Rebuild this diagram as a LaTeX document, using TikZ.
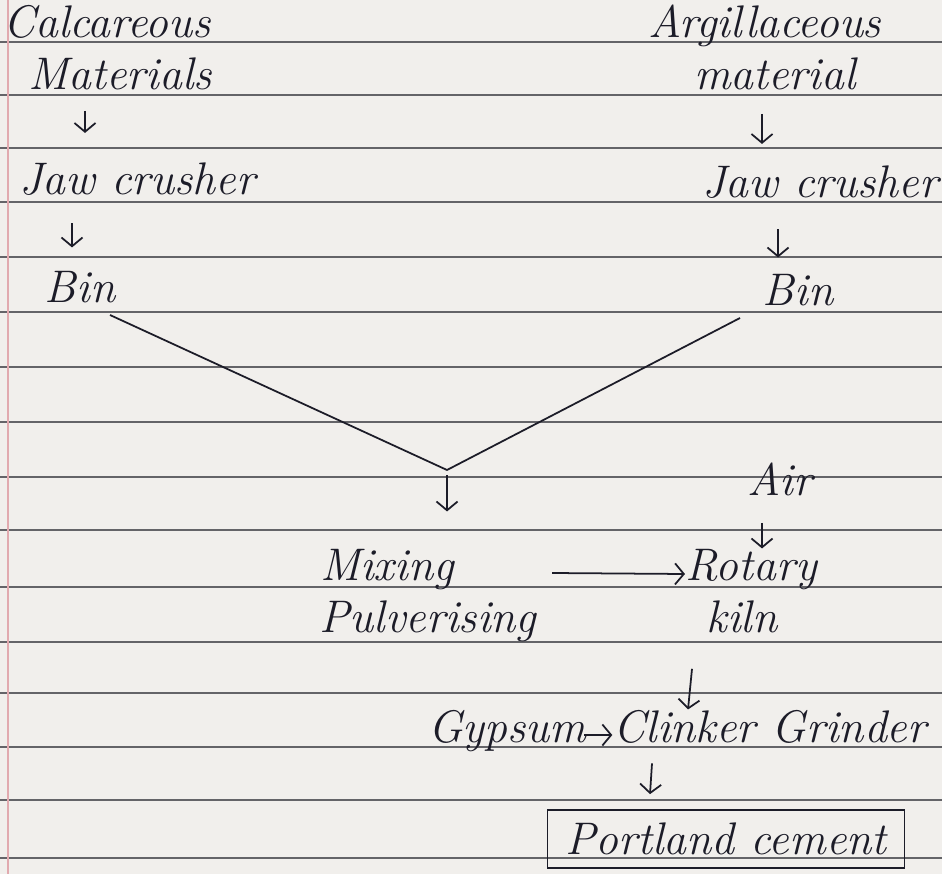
\documentclass[tikz,border=0pt]{standalone}
\usepackage{xcolor}
\usepackage{tikz}
\usetikzlibrary{arrows.meta}

\definecolor{paper}{RGB}{241,239,236}
\definecolor{rule}{RGB}{100,100,104}
\definecolor{margin}{RGB}{225,170,175}
\definecolor{ink}{RGB}{28,28,40}

\tikzset{
  word/.style={anchor=base,inner sep=0pt,text=ink,
    font=\fontsize{26}{30}\selectfont\itshape},
  flow/.style={draw=ink,line width=1pt,-{Straight Barb[length=5pt,width=12pt]}},
  joint/.style={draw=ink,line width=1pt}
}

\begin{document}
\begin{tikzpicture}[x=0.02cm,y=-0.02cm]
    \useasboundingbox (0,0) rectangle (942,874);
    \fill[paper] (0,0) rectangle (942,874);

    % ruled paper
    \foreach \y in {42,95,148,202,257,312,367,422,477,530,587,642,693,747,800,858}{
      \draw[rule,line width=1.2pt] (0,\y) -- (942,\y);
    }
    \draw[margin,line width=0.8pt] (8,0) -- (8,874);

    \begin{scope}
      % left branch
      \node[word] (calca) at (107,38)  {Calcareous};
      \node[word] (calcb) at (120,90)  {Materials};
      \node[word] (jawl)  at (137,195) {Jaw crusher};
      \node[word] (binl)  at (80,303)  {Bin};

      % right branch
      \node[word] (arga) at (765,38)  {Argillaceous};
      \node[word] (argb) at (775,90)  {material};
      \node[word] (jawr) at (820,198) {Jaw crusher};
      \node[word] (binr) at (798,306) {Bin};

      % process
      \coordinate (apex) at (447,470);
      \node[word] (air)   at (780,495) {Air};
      \node[word] (mix)   at (387,580) {Mixing};
      \node[word] (pulv)  at (428,632) {Pulverising};
      \node[word] (rot)   at (751,580) {Rotary};
      \node[word] (kiln)  at (742,632) {kiln};
      \node[word] (gyp)   at (507,742) {Gypsum};
      \node[word] (clink) at (770,742) {Clinker Grinder};
      \node[draw=ink,line width=1pt,minimum width=7.14cm,minimum height=1.16cm,
            text=ink,font=\fontsize{26}{30}\selectfont\itshape] (port) at (726,839) {Portland cement};

      \draw[flow] ([shift={(-35,20)}]calcb.south) -- ([shift={(-52,-30)}]jawl.north);
      \draw[flow] ([shift={(-65,27)}]jawl.south) -- ([shift={(-8,-24)}]binl.north);
      \draw[flow] ([shift={(-13,23)}]argb.south) -- ([shift={(-58,-22)}]jawr.north);
      \draw[flow] ([shift={(-42,30)}]jawr.south) -- ([shift={(-20,-17)}]binr.north);

      \draw[joint] ([shift={(30,12)}]binl.base) -- (apex) -- ([shift={(-58,12)}]binr.base);
      \draw[flow] ([shift={(0,5)}]apex) -- ([shift={(60,-37)}]mix.north);

      \draw[flow] ([shift={(-18,27)}]air.south) -- ([shift={(11,0)}]rot.north);
      \draw[flow] ([shift={(98,-7)}]mix.base east) -- ([shift={(0,-6)}]rot.base west);
      \draw[flow] ([shift={(-50,36)}]kiln.south) -- ([shift={(-82,0)}]clink.north);
      \draw[flow] ([shift={(-2,-7)}]gyp.base east) -- ([shift={(-1,-7)}]clink.base west);
      \draw[flow] ([shift={(-118,20)}]clink.south) -- ([shift={(-76,-15)}]port.north);
    \end{scope}
\end{tikzpicture}
\end{document}
